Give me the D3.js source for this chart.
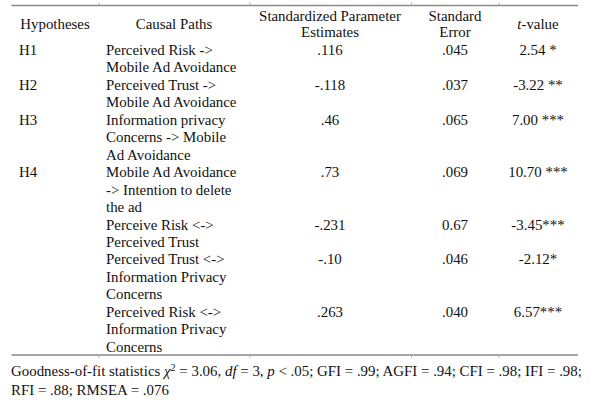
<!DOCTYPE html>
<html>
<head>
<meta charset="utf-8">
<script src="https://cdn.jsdelivr.net/npm/d3@7"></script>
<style>
  html, body { margin: 0; padding: 0; background: #fff; }
  svg text { font-family: "Liberation Serif", "Times New Roman", serif; font-size: 14.9px; fill: #111; }
</style>
</head>
<body>
<svg id="chart" width="604" height="406"></svg>
<script>
// ---- data ----
const columnHeaders = [
  ["Hypotheses"],
  ["Causal Paths"],
  ["Standardized Parameter", "Estimates"],
  ["Standard", "Error"],
  ["t-value"]
];
const hypotheses = ["H1", "H2", "H3", "H4", "", "", ""];
const causalPaths = [
  ["Perceived Risk ->", "Mobile Ad Avoidance"],
  ["Perceived Trust ->", "Mobile Ad Avoidance"],
  ["Information privacy", "Concerns -> Mobile", "Ad Avoidance"],
  ["Mobile Ad Avoidance", "-> Intention to delete", "the ad"],
  ["Perceive Risk <->", "Perceived Trust"],
  ["Perceived Trust <->", "Information Privacy", "Concerns"],
  ["Perceived Risk <->", "Information Privacy", "Concerns"]
];
const estimates = [".116", "-.118", ".46", ".73", "-.231", "-.10", ".263"];
const stdErrors = [".045", ".037", ".065", ".069", "0.67", ".046", ".040"];
const tValues = ["2.54 *", "-3.22 **", "7.00 ***", "10.70 ***", "-3.45***", "-2.12*", "6.57***"];
const footnoteLine2 = "RFI = .88; RMSEA = .076";

// ---- layout ----
const svg = d3.select("#chart");
const colEdges = [11.5, 99, 250, 411.5, 499, 578];
const lineColor = "#8a8a8a";

const colCenter = [55, 174, 330, 455, 538];
const hypX = 19, pathX = 106;

const totalLines = d3.sum(causalPaths, d => d.length);
const yLine = d3.scaleLinear().domain([0, totalLines - 1]).range([55, 55 + 17.45 * (totalLines - 1)]);

const topY = 5.5, botY = 355;
[topY, botY].forEach((y, k) => {
  svg.append("line").attr("x1", colEdges[0]).attr("x2", colEdges[5])
    .attr("y1", y).attr("y2", y).attr("stroke", lineColor).attr("stroke-width", 1.3);
  colEdges.slice(1, 5).forEach(x => {
    svg.append("line").attr("x1", x).attr("x2", x)
      .attr("y1", k === 0 ? y - 3 : y).attr("y2", k === 0 ? y : y + 3)
      .attr("stroke", "#b0b0b0").attr("stroke-width", 1);
  });
});

columnHeaders.forEach((lines, i) => {
  const t = svg.append("text").attr("text-anchor", "middle");
  const base = lines.length === 1 ? 28.5 : 20.5;
  lines.forEach((s, j) => {
    const ts = t.append("tspan").attr("x", colCenter[i]).attr("y", base + j * 16);
    if (s === "t-value") {
      ts.append("tspan").attr("font-style", "italic").text("t");
      ts.append("tspan").text("-value");
    } else ts.text(s);
  });
});

let lineIdx = 0;
causalPaths.forEach((lines, r) => {
  const y0 = yLine(lineIdx);
  svg.append("text").attr("x", hypX).attr("y", y0).text(hypotheses[r]);
  lines.forEach((s, j) => {
    svg.append("text").attr("x", pathX).attr("y", yLine(lineIdx + j)).text(s);
  });
  svg.append("text").attr("x", colCenter[2]).attr("y", y0).attr("text-anchor", "middle").text(estimates[r]);
  svg.append("text").attr("x", colCenter[3]).attr("y", y0).attr("text-anchor", "middle").text(stdErrors[r]);
  svg.append("text").attr("x", colCenter[4]).attr("y", y0).attr("text-anchor", "middle").text(tValues[r]);
  lineIdx += lines.length;
});

const f1 = svg.append("text").attr("x", 11).attr("y", 376);
f1.append("tspan").text("Goodness-of-fit statistics ");
f1.append("tspan").attr("font-style", "italic").text("χ");
f1.append("tspan").attr("dy", -5).attr("font-size", "10px").text("2");
f1.append("tspan").attr("dy", 5).text(" = 3.06, ");
f1.append("tspan").attr("font-style", "italic").text("df");
f1.append("tspan").text(" = 3, ");
f1.append("tspan").attr("font-style", "italic").text("p");
f1.append("tspan").text(" < .05; GFI = .99; AGFI = .94; CFI = .98; IFI = .98;");
svg.append("text").attr("x", 11).attr("y", 395).text(footnoteLine2);
</script>
</body>
</html>
